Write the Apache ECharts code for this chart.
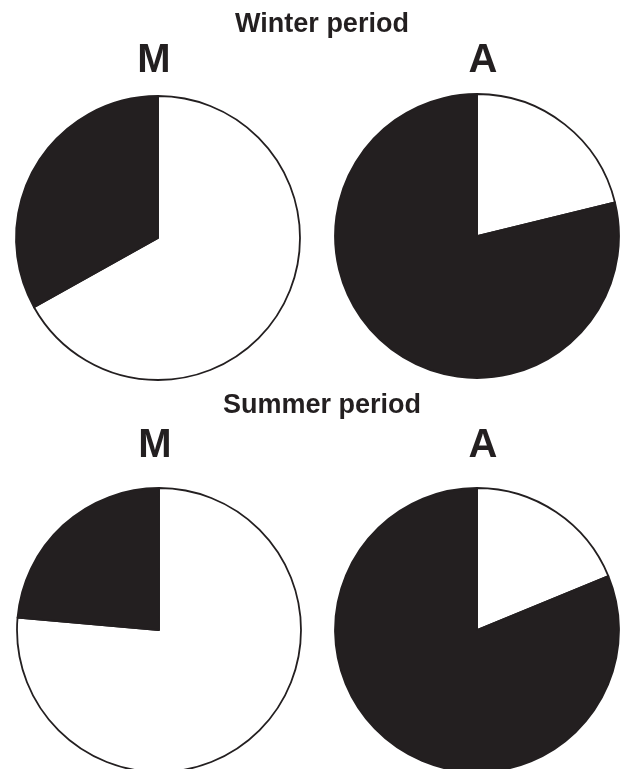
<!DOCTYPE html>
<html>
<head>
<meta charset="utf-8">
<script src="https://cdn.jsdelivr.net/npm/echarts@6/dist/echarts.min.js"></script>
<style>
html,body{margin:0;padding:0;background:#fff;}
#chart{width:620px;height:769px;}
</style>
</head>
<body>
<div id="chart"></div>
<script>
// Shares (%); white slice first (clockwise from 12 o'clock)
const categories = ['White', 'Black'];
const winterM = [66.9, 33.1];
const winterA = [21.2, 78.8];
const summerM = [76.4, 23.6];
const summerA = [18.8, 81.2];
const periodTitles = ['Winter period', 'Summer period'];
const panelLabels = ['M', 'A'];

const INK = '#231f20';
const colors = ['#ffffff', INK];

function pie(values, center) {
  return {
    type: 'pie',
    center: center,
    radius: [0, 142],
    startAngle: 90,
    clockwise: true,
    silent: true,
    animation: false,
    label: { show: false },
    labelLine: { show: false },
    itemStyle: { borderColor: INK, borderWidth: 1.8 },
    data: values.map((v, i) => ({ name: categories[i], value: v, itemStyle: { color: colors[i] } }))
  };
}

const FONT = 'Liberation Sans, Arial, Helvetica, sans-serif';
function txt(text, x, y, size) {
  return {
    type: 'text', x: x, y: y, silent: true,
    style: { text: text, fill: INK, font: 'bold ' + size + 'px ' + FONT, textAlign: 'center', textVerticalAlign: 'middle' }
  };
}

const chart = echarts.init(document.getElementById('chart'), null, { renderer: 'canvas' });
chart.setOption({
  animation: false,
  backgroundColor: '#ffffff',
  series: [
    pie(winterM, [158, 238]),
    pie(winterA, [477, 236]),
    pie(summerM, [159, 630]),
    pie(summerA, [477, 630])
  ],
  graphic: [
    txt(periodTitles[0], 322, 25, 27),
    txt(panelLabels[0], 154, 61, 40),
    txt(panelLabels[1], 483, 61, 40),
    txt(periodTitles[1], 322, 406, 27),
    txt(panelLabels[0], 155, 446, 40),
    txt(panelLabels[1], 483, 446, 40)
  ]
});
</script>
</body>
</html>
